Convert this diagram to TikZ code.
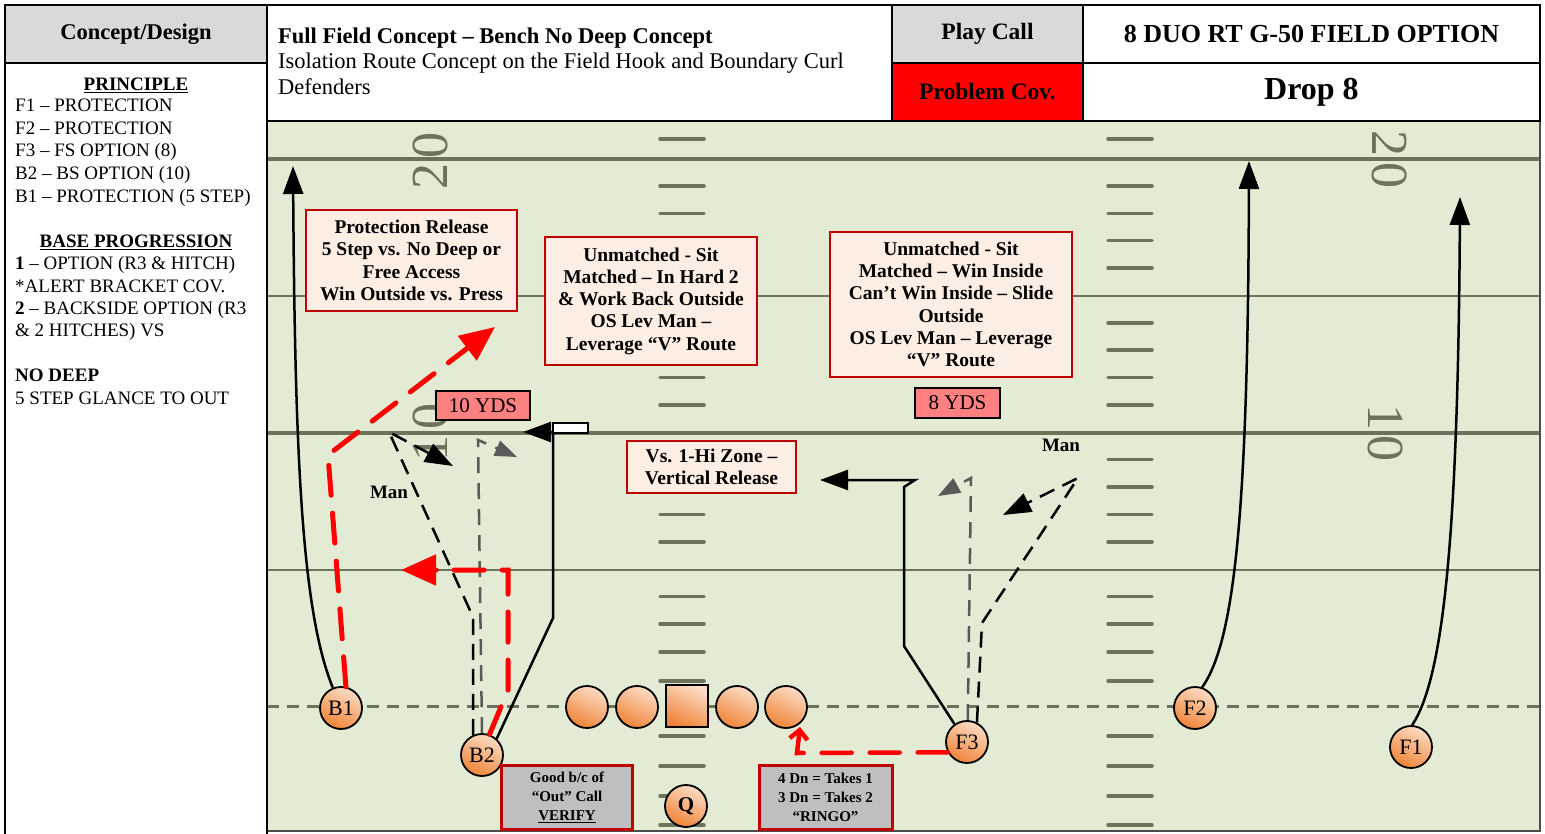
\documentclass[tikz,border=0pt]{standalone}
\usepackage{fontspec}
\setmainfont{Liberation Serif}
\usetikzlibrary{arrows.meta}
\definecolor{fieldbg}{RGB}{227,235,213}
\definecolor{fieldln}{RGB}{107,115,90}
\definecolor{hdrgray}{RGB}{217,217,217}
\definecolor{noteRed}{RGB}{192,0,0}
\definecolor{noteFill}{RGB}{253,238,228}
\definecolor{ydsFill}{RGB}{255,128,128}
\definecolor{boxGray}{RGB}{191,191,191}
\definecolor{routeGray}{RGB}{89,89,89}
\definecolor{plLight}{RGB}{252,220,196}
\definecolor{plDark}{RGB}{239,132,56}
\definecolor{redRoute}{RGB}{255,0,0}
\begin{document}
\begin{tikzpicture}[x=1pt,y=-1pt,
  cell/.style={draw=black, line width=1.5pt, inner sep=0pt, align=center},
  note/.style={draw=noteRed, line width=2.5pt, fill=noteFill, align=center, inner sep=0pt, font=\bfseries\fontsize{19.5}{22.3}\selectfont},
  grnote/.style={draw=noteRed, line width=3pt, fill=boxGray, align=center, inner sep=0pt, font=\bfseries\fontsize{15}{19}\selectfont},
  yds/.style={draw=black, line width=2pt, fill=ydsFill, inner sep=0pt, font=\fontsize{21}{21}\selectfont},
  player/.style={circle, draw=black, line width=1.8pt, minimum size=42pt, inner sep=0pt, top color=plLight, bottom color=plDark, shading angle=-25, font=\fontsize{22}{22}\selectfont},
  center/.style={rectangle, draw=black, line width=1.8pt, minimum size=42pt, inner sep=0pt, top color=plLight, bottom color=plDark, shading angle=-25},
  paneltxt/.style={anchor=base west, inner sep=0pt, font=\fontsize{19}{22}\selectfont},
  panelhead/.style={anchor=base, inner sep=0pt, font=\bfseries\fontsize{19}{22}\selectfont},
  yardnum/.style={text=fieldln, font=\fontsize{52}{52}\selectfont, inner sep=0pt},
  hash/.style={draw=fieldln, line width=3.5pt, line cap=round},
  manlbl/.style={inner sep=0pt, font=\bfseries\fontsize{19}{19}\selectfont},
  blk/.style={draw=black, line width=2.5pt},
  blkdash/.style={draw=black, line width=2.5pt, dash pattern=on 16pt off 9pt},
  grydash/.style={draw=routeGray, line width=2.5pt, dash pattern=on 16pt off 10pt},
  reddash/.style={draw=redRoute, line width=5pt, dash pattern=on 30pt off 18pt, line cap=round},
  bhead/.style={-{Triangle[length=28pt,width=20pt]}},
  ghead/.style={-{Triangle[length=22pt,width=16pt,fill=routeGray]}},
  rhead/.style={-{Triangle[length=35pt,width=30pt]}},
]
\useasboundingbox (0,0) rectangle (1545,834);
\fill[white] (0,0) rectangle (1545,834);

% ---------- field ----------
\fill[fieldbg] (267,121) rectangle (1540,831);
\draw[fieldln, line width=3.5pt] (267,159) -- (1540,159);
\draw[fieldln, line width=1.5pt] (267,296) -- (1540,296);
\draw[fieldln, line width=3.5pt] (267,433) -- (1540,433);
\draw[fieldln, line width=1.5pt] (267,570) -- (1540,570);
\foreach \yy in {139,186,213.3,240.7,268.1,322.8,350.2,377.6,405,459.7,487,514.4,541.8,596.5,623.9,652,681,736,766,796,825}{
  \draw[hash] (660,\yy) -- (704,\yy);
  \draw[hash] (1108,\yy) -- (1152,\yy);
}
\node[yardnum, rotate=90] (n20l) at (430,161) {2\hspace{6pt}0};
\node[yardnum, rotate=90] (n10l) at (430,432) {1\hspace{6pt}0};
\node[yardnum, rotate=-90] (n20r) at (1390,160) {2\hspace{6pt}0};
\node[yardnum, rotate=-90] (n10r) at (1386,433) {1\hspace{6pt}0};
\draw[fieldln, line width=3pt, dash pattern=on 12pt off 8pt] (267,706) -- (1540,706);
\draw[black!70, line width=1.5pt] (267,121) rectangle (1540,831);

% ---------- header ----------
\draw[black, line width=1.5pt] (5,63) -- (5,834);
\draw[black, line width=1.5pt] (267,63) -- (267,834);
\node[cell, fill=hdrgray, minimum width=262pt, minimum height=58pt, font=\bfseries\fontsize{22.5}{24}\selectfont] (cd) at (136,34) {Concept/Design};
\draw[black, line width=1.5pt] (267,5) rectangle (892,121);
\node[anchor=base west, inner sep=0pt, font=\bfseries\fontsize{22.5}{24}\selectfont] (t1) at (278,44) {Full Field Concept -- Bench No Deep Concept};
\node[anchor=base west, inner sep=0pt, font=\fontsize{22.5}{24}\selectfont] (t2) at (278,69) {Isolation Route Concept on the Field Hook and Boundary Curl};
\node[anchor=base west, inner sep=0pt, font=\fontsize{22.5}{24}\selectfont] (t3) at (278,95) {Defenders};
\node[cell, fill=hdrgray, minimum width=191pt, minimum height=58pt, font=\bfseries\fontsize{23.5}{24}\selectfont] (pc) at (987.5,34) {Play Call};
\node[cell, fill=white, minimum width=457pt, minimum height=58pt, font=\bfseries\fontsize{26}{26}\selectfont] (call) at (1311.5,34) {8 DUO RT G-50 FIELD OPTION};
\node[cell, fill=red, minimum width=191pt, minimum height=58pt, font=\bfseries\fontsize{23.5}{24}\selectfont] (prob) at (987.5,92) {Problem Cov.};
\node[cell, fill=white, minimum width=457pt, minimum height=58pt, font=\bfseries\fontsize{32}{32}\selectfont] (drop) at (1311.5,92) {Drop 8};

% ---------- left panel ----------
\node[panelhead] (ph1) at (136,90.5) {\underline{PRINCIPLE}};
\node[paneltxt] (p1) at (15,111.5) {F1 -- PROTECTION};
\node[paneltxt] (p2) at (15,134.5) {F2 -- PROTECTION};
\node[paneltxt] (p3) at (15,156.5) {F3 -- FS OPTION (8)};
\node[paneltxt] (p4) at (15,179.5) {B2 -- BS OPTION (10)};
\node[paneltxt] (p5) at (15,202.5) {B1 -- PROTECTION (5 STEP)};
\node[panelhead] (ph2) at (136,247.5) {\underline{BASE PROGRESSION}};
\node[paneltxt] (p6) at (15,269.5) {\textbf{1} -- OPTION (R3 \& HITCH)};
\node[paneltxt] (p7) at (15,292.5) {*ALERT BRACKET COV.};
\node[paneltxt] (p8) at (15,314.5) {\textbf{2} -- BACKSIDE OPTION (R3};
\node[paneltxt] (p9) at (15,336.5) {\& 2 HITCHES) VS};
\node[paneltxt, font=\bfseries\fontsize{19}{22}\selectfont] (p10) at (15,381.5) {NO DEEP};
\node[paneltxt] (p11) at (15,404.5) {5 STEP GLANCE TO OUT};

% ---------- players ----------
\node[player] (B1) at (341,708) {B1};
\node[player] (B2) at (482,755) {B2};
\node[player] (ol1) at (587,707) {};
\node[player] (ol2) at (637,707) {};
\node[center] (C) at (687,706) {};
\node[player] (ol4) at (737,707) {};
\node[player] (ol5) at (786,707) {};
\node[player, font=\bfseries\fontsize{21}{21}\selectfont] (Q) at (686,806) {Q};
\node[player] (F3) at (967,742) {F3};
\node[player] (F2) at (1195,708) {F2};
\node[player] (F1) at (1411,747) {F1};

% ---------- route end points ----------
\coordinate (b1top) at (293,166);
\coordinate (b1rA) at (328,455);
\coordinate (b1rEnd) at (495,327);
\coordinate (b2kA) at (473,617);
\coordinate (b2kB) at (389,432);
\coordinate (b2kEnd) at (453,466);
\coordinate (b2gA) at (478,440);
\coordinate (b2gEnd) at (517,457);
\coordinate (b2rA) at (508,690);
\coordinate (b2rB) at (508,570);
\coordinate (b2rEnd) at (401,570);
\coordinate (b2sA) at (553,618);
\coordinate (b2sB) at (553,432);
\coordinate (b2sEnd) at (523,432);
\coordinate (f3sA) at (904,646);
\coordinate (f3sB) at (904,487);
\coordinate (f3sC) at (915,480);
\coordinate (f3sEnd) at (820,480);
\coordinate (f3gA) at (971,478);
\coordinate (f3gEnd) at (938,496);
\coordinate (f3kA) at (982,623);
\coordinate (f3kB) at (1078,478);
\coordinate (f3kEnd) at (1003,515);
\coordinate (f3rA) at (797,753);
\coordinate (f3rEnd) at (800,727);
\coordinate (f2top) at (1249,161);
\coordinate (f1top) at (1460,197);

% ---------- routes ----------
\draw[blk, bhead] (B1.112) .. controls (302,612) and (295,460) .. (b1top);
\draw[reddash, rhead] (B1.77) -- (b1rA) -- (b1rEnd);
\draw[blkdash, bhead] (B2.114) -- (b2kA) -- (b2kB) -- (b2kEnd);
\draw[grydash, ghead] (B2.90) -- (b2gA) -- (b2gEnd);
\draw[reddash, rhead] (B2.70) -- (b2rA) -- (b2rB) -- (b2rEnd);
\draw[blk] (B2.48) -- (b2sA) -- (b2sB);
\draw[blk, fill=white] (553,423) rectangle (588,433);
\draw[blk, bhead] (b2sB) -- (b2sEnd);
\draw[blk, bhead] (F3.125) -- (f3sA) -- (f3sB) -- (f3sC) -- (f3sEnd);
\draw[grydash, ghead] (F3.88) -- (f3gA) -- (f3gEnd);
\draw[blkdash, bhead] (F3.63) -- (f3kA) -- (f3kB) -- (f3kEnd);
\draw[reddash, line width=4.5pt, -{Straight Barb[length=9pt,width=18pt]}] (F3.208) -- (f3rA) -- (f3rEnd);
\draw[blk, bhead] (F2.71) .. controls (1236,640) and (1248,500) .. (f2top);
\draw[blk, bhead] (F1.87) .. controls (1442,680) and (1458,550) .. (f1top);

% ---------- labels ----------
\node[manlbl] (man1) at (389,492) {Man};
\node[manlbl] (man2) at (1061,445) {Man};
\node[note, minimum width=211pt, minimum height=101pt] (n1) at (411.5,260.5) {Protection Release\\5 Step vs. No Deep or\\Free Access\\Win Outside vs. Press};
\node[note, minimum width=212pt, minimum height=128pt] (n2) at (651,301) {Unmatched - Sit\\Matched -- In Hard 2\\\& Work Back Outside\\OS Lev Man --\\Leverage ``V'' Route};
\node[note, minimum width=242pt, minimum height=145pt] (n3) at (951,304.5) {Unmatched - Sit\\Matched -- Win Inside\\Can’t Win Inside -- Slide\\Outside\\OS Lev Man -- Leverage\\``V'' Route};
\node[note, minimum width=169pt, minimum height=52pt] (n4) at (711.5,467) {Vs. 1-Hi Zone --\\Vertical Release};
\node[yds, minimum width=94pt, minimum height=29pt] (y10) at (483,405.5) {10 YDS};
\node[yds, minimum width=85pt, minimum height=30pt] (y8) at (957.5,403) {8 YDS};
\node[grnote, minimum width=131pt, minimum height=64pt] (g1) at (567,797) {Good b/c of\\``Out'' Call\\\underline{VERIFY}};
\node[grnote, minimum width=133pt, minimum height=64pt] (g2) at (825.5,797) {4 Dn = Takes 1\\3 Dn = Takes 2\\``RINGO''};
\end{tikzpicture}
\end{document}
